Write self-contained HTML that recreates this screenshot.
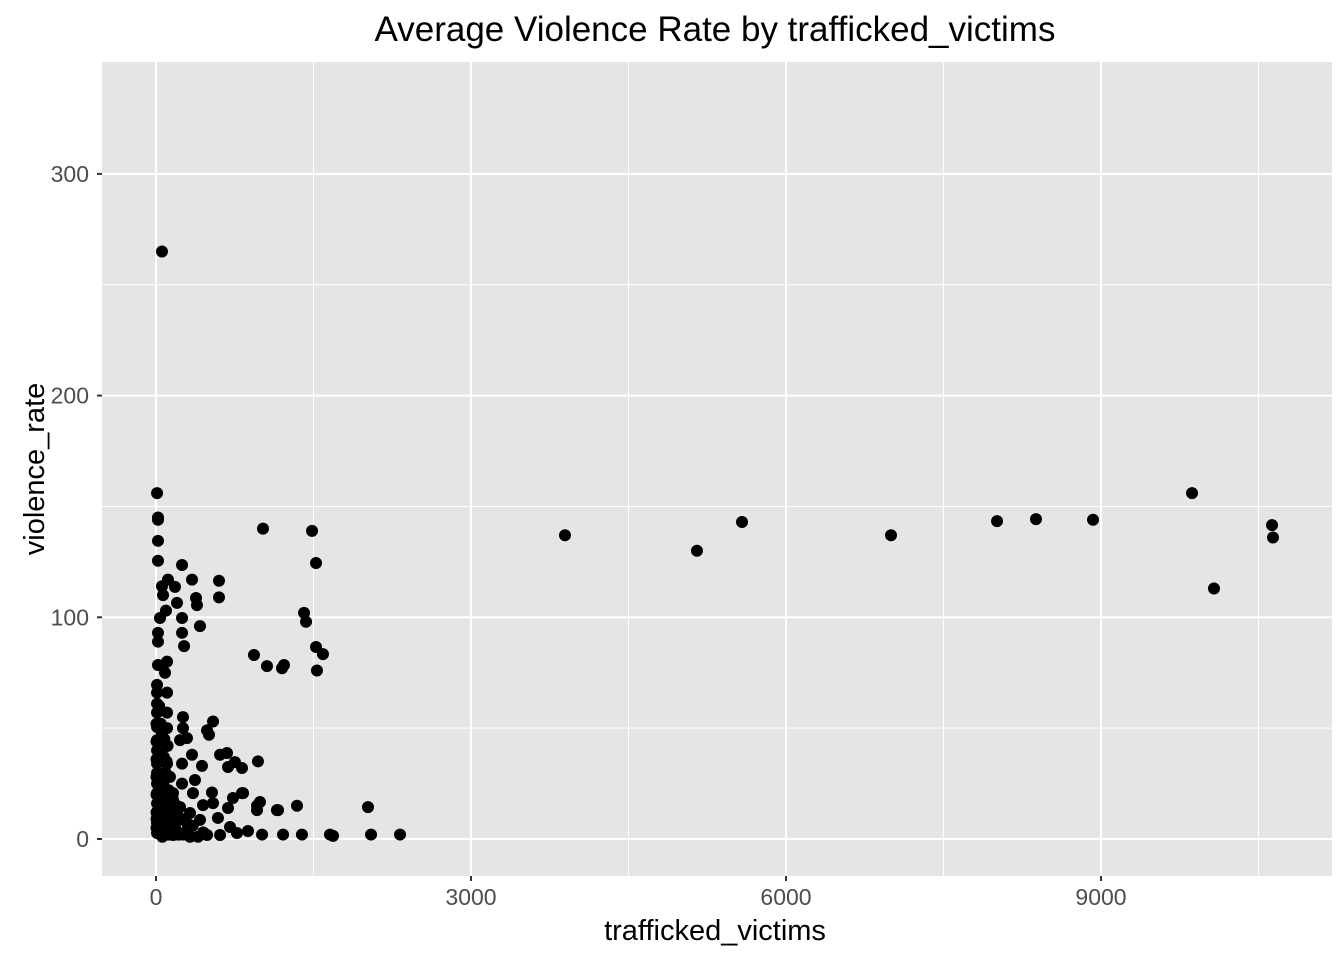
<!DOCTYPE html>
<html><head><meta charset="utf-8"><style>
body{margin:0;background:#fff;}
svg text{font-family:"Liberation Sans",Arial,sans-serif;}
</style></head><body>
<svg id="chart" width="1344" height="960" xmlns="http://www.w3.org/2000/svg">
<rect x="0" y="0" width="1344" height="960" fill="#fff"/>
<text x="715" y="41" font-size="35" text-anchor="middle" fill="#000">Average Violence Rate by trafficked_victims</text>
<rect x="102" y="62" width="1230" height="814" fill="#E5E5E5"/>
<g id="grid"></g>
<g id="points"></g>
<g id="axes"></g>
<text x="715" y="940" font-size="29" text-anchor="middle" fill="#000">trafficked_victims</text>
<text transform="translate(44,469) rotate(-90)" font-size="29" text-anchor="middle" fill="#000">violence_rate</text>
</svg>
<script>
const xTicks=[0,3000,6000,9000];
const xMinor=[1500,4500,7500,10500];
const yTicks=[0,100,200,300];
const yMinor=[50,150,250];
const xVals=[57,3895,5152,5581,7000,8010,8381,8924,9867,10076,10629,10638,
1019,1486,1524,1410,1429,933,1057,1219,1200,1524,1590,1533,971,990,962,1343,1162,2019,1390,1657,1686,2048,2324,1010,1210,876,819,686,
10,19,19,19,19,248,343,600,600,114,57,181,67,381,390,200,95,38,248,419,19,248,19,267,19,105,86,10,10,105,10,10,105,10,105,257,543,257,486,505,295,229,10,10,10,105,248,343,438,610,676,752,819,10,133,371,10,248,10,162,352,533,829,733,686,10,229,448,543,962,1152,10,162,324,590,10,133,295,419,705,10,162,324,486,610,771,
30,60,80,120,150,40,70,90,140,180,50,100,200,60,30,80,120,160,210,260,300,350,400,450,20,45,75,110,25,55,
5,25,45,65,85,105,125,145,5,25,45,65,85,105,125,5,25,45,65,85,105,5,25,45,65,85,5,25,45,65,5,25,45,5,25,45,65,85,105,125,145,165,185,205,225,5,35,65,95,125,155,185,215,245,275,15,55,95,135,175];
const yVals=[265,137,130,143,137,143.4,144.3,144,156,113,141.6,136,
140,139,124.5,102,98,83,78,78.5,77,86.6,83.4,76,35,16.7,15,15,13,14.4,2,2,1.4,2,2,2,2,3.6,20.7,32.5,
156,145,144,134.5,125.5,123.6,117,116.5,109,117,114,113.7,110,108.7,105.5,106.5,103,99.7,99.7,96,93,93,89,87,78.5,80,75,69.5,66,66,61,57,57,50.5,50,55,53,50,49,47,45.5,44.6,44.6,40,34,34,34,38,33,38,38.8,34.7,32,29.8,28,26.6,25,25,20.7,20.7,20.7,21,20.7,18.5,14,16,14.4,15.3,16.2,13,13,11.7,11.7,11.7,9.5,7.2,7.2,7.2,8.6,5.4,2.7,1.8,1,1.8,1.8,2.7,
3,5,8,10,4,20,25,30,15,6,40,35,12,1,60,45,22,18,3,2,4,6,1,3,9,28,37,42,12,48,
5,5,5,5,5,5,5,5,12,12,12,12,12,12,12,20,20,20,20,20,20,28,28,28,28,28,36,36,36,36,44,44,44,52,52,52,2,2,2,2,2,2,2,2,2,9,9,9,9,9,9,9,9,9,9,16,16,16,16,16];
const X0=102,X1=1332,Y0=62,Y1=876;
function sx(v){return 156+v*(315/3000);}
function sy(v){return 839-v*(221.7/100);}
const NS="http://www.w3.org/2000/svg";
const grid=document.getElementById('grid'),pts=document.getElementById('points'),axes=document.getElementById('axes');
function mk(tag,attrs,parent){const e=document.createElementNS(NS,tag);for(const k in attrs)e.setAttribute(k,attrs[k]);parent.appendChild(e);return e;}
xMinor.forEach(v=>{const e=mk('line',{x1:sx(v),x2:sx(v),y1:Y0,y2:Y1,stroke:'#fff','stroke-width':1},grid);

});
yMinor.forEach(v=>{const e=mk('line',{x1:X0,x2:X1,y1:sy(v),y2:sy(v),stroke:'#fff','stroke-width':1},grid);

});
xTicks.forEach(v=>{const e=mk('line',{x1:sx(v),x2:sx(v),y1:Y0,y2:Y1,stroke:'#fff','stroke-width':2},grid);


const t=mk('line',{x1:sx(v),x2:sx(v),y1:Y1,y2:Y1+5,stroke:'#333','stroke-width':2},axes);


const l=mk('text',{x:sx(v),y:Y1+29,'font-size':23,'text-anchor':'middle',fill:'#4D4D4D'},axes);l.textContent=v;

});
yTicks.forEach(v=>{const e=mk('line',{x1:X0,x2:X1,y1:sy(v),y2:sy(v),stroke:'#fff','stroke-width':2},grid);


const t=mk('line',{x1:X0-5,x2:X0,y1:sy(v),y2:sy(v),stroke:'#333','stroke-width':2},axes);


const l=mk('text',{x:X0-13,y:sy(v)+8,'font-size':23,'text-anchor':'end',fill:'#4D4D4D'},axes);l.textContent=v;

});
xVals.forEach((v,i)=>{const c=mk('circle',{cx:sx(v),cy:sy(yVals[i]),r:6,fill:'#000'},pts);

});
</script>
</body></html>
